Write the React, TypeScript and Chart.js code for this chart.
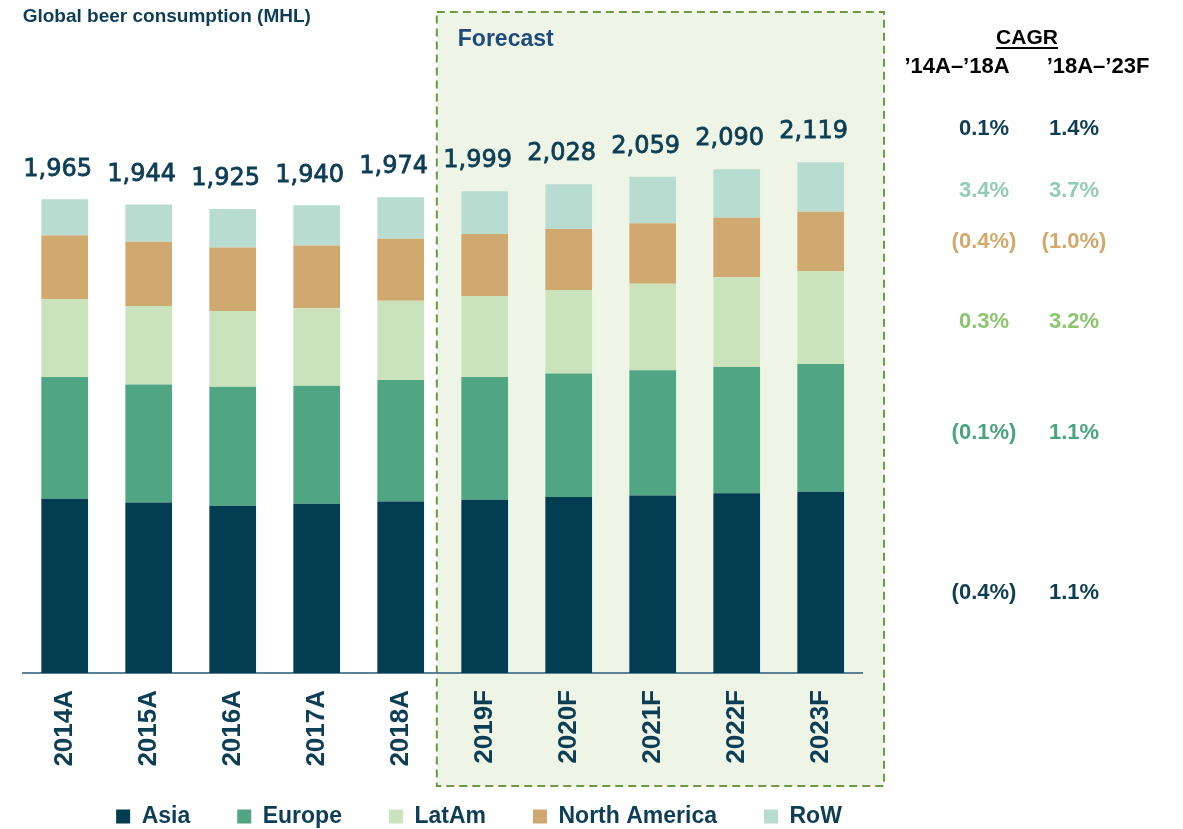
import React, { useEffect, useRef } from "react";
import { Chart, registerables } from "chart.js";

Chart.register(...registerables);

// ---------- data ----------
const categories = ["2014A", "2015A", "2016A", "2017A", "2018A", "2019F", "2020F", "2021F", "2022F", "2023F"];
const asia = [723, 707, 694, 702, 711, 719, 730, 736, 746, 752];
const europe = [505, 490, 493, 490, 504, 509, 512, 520, 523, 530];
const latam = [324, 325, 315, 321, 329, 336, 347, 359, 373, 385];
const northAmerica = [263, 267, 263, 260, 257, 257, 253, 251, 247, 247];
const restOfWorld = [150, 155, 160, 167, 173, 178, 186, 193, 201, 205];
const totals = [1965, 1944, 1925, 1940, 1974, 1999, 2028, 2059, 2090, 2119];

const cagrRows = ["Total", "RoW", "North America", "LatAm", "Europe", "Asia"];
const cagr14to18 = ["0.1%", "3.4%", "(0.4%)", "0.3%", "(0.1%)", "(0.4%)"];
const cagr18to23 = ["1.4%", "3.7%", "(1.0%)", "3.2%", "1.1%", "1.1%"];
const cagrHeaders = ["\u201914A\u2013\u201918A", "\u201918A\u2013\u201923F"];

const Y_MAX = 2626;
const FIRST_FORECAST_INDEX = 5;

// ---------- styles ----------
const DARK = "#0d3e55";
const C_ASIA = "#033d52";
const C_EUROPE = "#50a683";
const C_LATAM = "#cbe3bc";
const C_NA = "#d0a970";
const C_ROW = "#b8dcd0";
const CAGR_COLORS = [DARK, "#93ccb6", "#d4a86a", "#8dc56e", "#4aa47e", DARK];
const CAGR_ROW_Y = [129, 191, 242, 322, 433, 593];

export default function App() {
  const ref = useRef<HTMLCanvasElement>(null);

  useEffect(() => {
    const canvas = ref.current;
    if (!canvas) return;

    const forecastPlugin = {
      id: "forecastBox",
      beforeDraw(chart: any) {
        const { ctx } = chart;
        const x = chart.scales.x;
        const cat = x.getPixelForValue(1) - x.getPixelForValue(0);
        const left =
          (x.getPixelForValue(FIRST_FORECAST_INDEX - 1) + x.getPixelForValue(FIRST_FORECAST_INDEX)) / 2 - 0.07 * cat;
        const right = x.getPixelForValue(categories.length - 1) + 0.754 * cat;
        const top = 12;
        const bottom = 786;
        ctx.save();
        ctx.fillStyle = "#eef5e6";
        ctx.fillRect(left, top, right - left, bottom - top);
        ctx.setLineDash([8, 5]);
        ctx.strokeStyle = "#6b9a42";
        ctx.lineWidth = 2;
        ctx.strokeRect(left, top, right - left, bottom - top);
        ctx.setLineDash([]);
        ctx.fillStyle = "#1f4b7c";
        ctx.font = "bold 23px 'Liberation Sans'";
        ctx.textBaseline = "middle";
        ctx.textAlign = "left";
        ctx.fillText("Forecast", left + 21, 40);
        ctx.restore();
      },
    };

    const totalsPlugin = {
      id: "totals",
      afterDatasetsDraw(chart: any) {
        const { ctx } = chart;
        const meta = chart.getDatasetMeta(chart.data.datasets.length - 1);
        ctx.save();
        ctx.font = "24px 'DejaVu Sans'";
        ctx.fillStyle = DARK;
        ctx.strokeStyle = DARK;
        ctx.lineWidth = 0.8;
        ctx.textAlign = "center";
        ctx.textBaseline = "middle";
        meta.data.forEach((el: any, i: number) => {
          const t = totals[i].toLocaleString("en-US");
          ctx.fillText(t, el.x - 7, el.y - 30);
          ctx.strokeText(t, el.x - 7, el.y - 30);
        });
        ctx.restore();
      },
    };

    const cagrPlugin = {
      id: "cagr",
      afterDraw(chart: any) {
        const { ctx } = chart;
        ctx.save();
        ctx.textAlign = "center";
        ctx.textBaseline = "middle";
        ctx.fillStyle = "#000";
        ctx.font = "bold 21px 'Liberation Sans'";
        ctx.fillText("CAGR", 1027, 38);
        const w = ctx.measureText("CAGR").width;
        ctx.fillRect(1027 - w / 2, 47, w, 2);
        ctx.font = "bold 22px 'Liberation Sans'";
        ctx.fillText(cagrHeaders[0], 957, 67);
        ctx.fillText(cagrHeaders[1], 1098, 67);
        ctx.font = "bold 22px 'Liberation Sans'";
        cagrRows.forEach((_, i) => {
          ctx.fillStyle = CAGR_COLORS[i];
          ctx.fillText(cagr14to18[i], 984, CAGR_ROW_Y[i]);
          ctx.fillText(cagr18to23[i], 1074, CAGR_ROW_Y[i]);
        });
        ctx.restore();
      },
    };

    const chart = new Chart(canvas, {
      type: "bar",
      data: {
        labels: categories,
        datasets: [
          { label: "Asia", data: asia, backgroundColor: C_ASIA },
          { label: "Europe", data: europe, backgroundColor: C_EUROPE },
          { label: "LatAm", data: latam, backgroundColor: C_LATAM },
          { label: "North America", data: northAmerica, backgroundColor: C_NA },
          { label: "RoW", data: restOfWorld, backgroundColor: C_ROW },
        ],
      },
      options: {
        animation: false,
        responsive: true,
        maintainAspectRatio: false,
        layout: { padding: { left: 22.7, right: 247.7, top: 0, bottom: 0 } },
        datasets: { bar: { barPercentage: 0.556, categoryPercentage: 1, borderWidth: 0 } },
        plugins: {
          title: {
            display: true,
            text: "Global beer consumption (MHL)",
            align: "start",
            color: DARK,
            font: { family: "'Liberation Sans'", size: 19, weight: "bold", lineHeight: 1 },
            padding: { top: 7.5, bottom: 13.5 },
          },
          legend: {
            position: "bottom",
            labels: {
              color: DARK,
              boxWidth: 14,
              boxHeight: 14,
              padding: 47,
              font: { family: "'Liberation Sans'", size: 23, weight: "bold" },
            },
          },
          tooltip: { enabled: false },
        },
        scales: {
          x: {
            stacked: true,
            grid: { display: false, drawTicks: false },
            border: { display: true, color: "#5a8294", width: 2 },
            ticks: {
              autoSkip: false,
              maxRotation: 90,
              minRotation: 90,
              padding: 17,
              color: DARK,
              font: { family: "'Liberation Sans'", size: 26, weight: "bold" },
            },
            afterFit: (s: any) => {
              s.height = 85;
              // let the rotated tick labels extend past the axis box
              s._computeLabelArea = () => undefined;
            },
          },
          y: {
            stacked: true,
            display: false,
            min: 0,
            max: Y_MAX,
          },
          yR: {
            type: "linear",
            position: "right",
            display: true,
            grid: { display: false, drawTicks: false },
            border: { display: false },
            ticks: { display: false },
            afterFit: (s: any) => {
              s.width = 72.6;
            },
          },
        },
      },
      plugins: [forecastPlugin, totalsPlugin, cagrPlugin],
    } as any);

    return () => chart.destroy();
  }, []);

  return (
    <div
      style={{
        position: "absolute",
        left: 0,
        top: 0,
        width: 1183,
        height: 829,
        overflow: "hidden",
        background: "#fff",
      }}
    >
      <div style={{ position: "relative", width: 1183, height: 838 }}>
        <canvas ref={ref} />
      </div>
    </div>
  );
}
